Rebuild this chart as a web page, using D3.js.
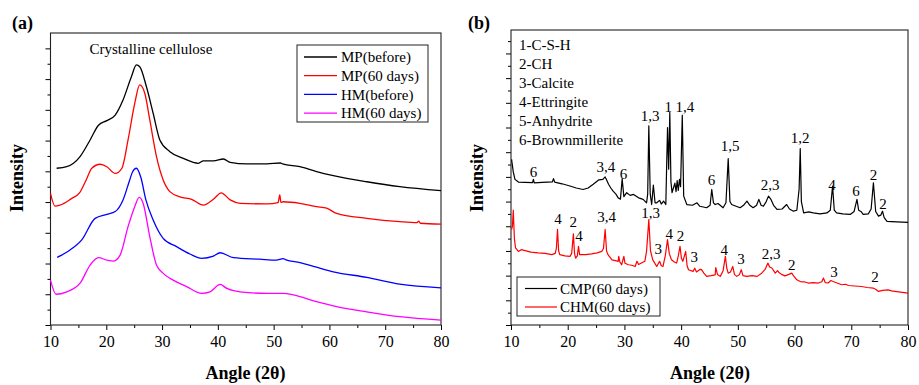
<!DOCTYPE html>
<html>
<head>
<style>
  body { margin: 0; background: #fff; }
  svg text { font-family: "Liberation Serif", "Times New Roman", serif; fill: #000; }
  .bold { font-weight: bold; }
</style>
<script src="https://d3js.org/d3.v7.min.js"></script>
</head>
<body>
<div id="chart"></div>
<script>
// ---- panel (a) data: [angle, intensity]
var mpBefore = [[11.1,5.10],[12.9,5.15],[15.3,5.48],[17.1,6.02],[18.6,6.50],[20.1,6.65],[21.6,6.83],[23.0,7.32],[24.5,8.08],[25.4,8.46],[26.0,8.40],[27.2,7.75],[28.4,6.89],[29.6,6.02],[31.4,5.64],[33.8,5.42],[36.5,5.26],[37.4,5.34],[39.2,5.34],[41.0,5.40],[42.2,5.29],[45.2,5.24],[48.8,5.24],[51.2,5.27],[51.6,5.24],[54.7,5.15],[57.7,4.99],[60.7,4.86],[66.7,4.66],[72.6,4.50],[80,4.37]];
var mp60 = [[10.0,4.28],[10.8,3.87],[11.7,3.90],[13.8,4.12],[15.2,4.30],[16.4,4.72],[17.4,5.10],[18.9,5.23],[20.1,5.15],[21.6,4.93],[22.8,5.10],[23.9,6.02],[25.1,7.21],[26.0,7.81],[26.9,7.54],[27.8,6.67],[29.0,5.48],[30.2,4.72],[31.4,4.34],[33.2,4.17],[35.3,4.09],[37.4,3.90],[39.2,4.09],[40.6,4.30],[42.2,4.07],[44.0,3.96],[48.8,3.94],[50.8,3.98],[51.1,4.23],[51.3,3.99],[51.7,4.01],[54.7,3.96],[57.7,3.85],[59.5,3.80],[61.3,3.63],[66.7,3.47],[72.6,3.36],[75.7,3.33],[76.0,3.38],[76.3,3.31],[80,3.28]];
var hmBefore = [[11.2,2.20],[13.5,2.44],[15.6,2.77],[18.0,3.47],[20.1,3.60],[21.6,3.69],[23.0,4.07],[24.2,4.72],[24.7,4.98],[25.4,5.10],[26.2,4.80],[27.1,4.07],[28.4,3.42],[30.2,2.82],[32.6,2.55],[35.0,2.31],[37.1,2.17],[39.2,2.24],[40.4,2.35],[42.8,2.19],[47.5,2.14],[50.5,2.11],[51.7,2.16],[52.2,2.12],[54.7,2.03],[57.7,1.88],[60.7,1.73],[66.7,1.55],[72.6,1.33],[80,1.21]];
var hm60 = [[10.0,1.46],[11.0,1.00],[12.9,1.08],[15.3,1.36],[17.1,1.95],[18.6,2.19],[20.1,2.11],[21.3,2.08],[22.5,2.28],[23.9,3.20],[25.1,3.85],[25.9,4.15],[26.6,3.96],[27.8,2.87],[29.0,1.95],[30.2,1.68],[32.0,1.46],[34.4,1.25],[37.1,1.03],[38.6,1.08],[40.4,1.32],[41.6,1.19],[44.0,1.08],[48.8,1.03],[51.7,1.03],[53.5,0.98],[57.7,0.76],[61.3,0.60],[66.7,0.43],[72.6,0.27],[80,0.16]];
var namesA = ["MP(before)", "MP(60 days)", "HM(before)", "HM(60 days)"];
var colorsA = ["#000000", "#ff0000", "#0000ff", "#ff00ff"];

// ---- panel (b) data
var cmp60 = [[10.1,6.71],[10.4,6.2],[10.7,5.9],[11.3,5.79],[12.5,5.78],[13.8,5.77],[13.95,5.9],[14.1,5.76],[15.5,5.78],[17.3,5.8],[17.5,5.93],[17.7,5.79],[19,5.72],[20.4,5.63],[21.5,5.55],[22.7,5.49],[23.6,5.55],[24.5,5.7],[25.5,5.88],[26.2,5.9],[26.6,6.0],[26.8,5.9],[27.2,5.7],[27.6,5.55],[28.0,5.42],[28.5,5.3],[28.9,5.15],[29.3,5.1],[29.6,5.92],[29.9,5.2],[30.4,5.36],[31.0,5.25],[31.6,5.29],[32.5,5.15],[33.3,5.09],[33.9,4.95],[34.1,5.3],[34.3,8.07],[34.55,5.3],[34.8,4.88],[35.1,5.67],[35.4,4.95],[35.7,4.95],[36.2,5.05],[36.5,4.9],[36.9,5.02],[37.3,4.88],[37.45,6.5],[37.6,8.0],[37.8,6.31],[38.0,8.61],[38.2,5.8],[38.4,5.36],[38.7,5.6],[38.9,5.75],[39.1,5.4],[39.3,5.85],[39.5,5.45],[39.7,5.9],[39.9,5.6],[40.2,8.5],[40.45,5.22],[41.0,4.88],[42,4.85],[42.8,4.95],[43.3,4.81],[44.5,4.75],[45.1,4.85],[45.4,5.49],[45.7,4.95],[46.0,4.88],[46.5,4.92],[47.4,4.75],[47.9,4.95],[48.3,6.74],[48.6,5.0],[48.9,4.88],[49.8,4.8],[50.4,4.75],[51.0,4.85],[51.6,5.02],[52.1,4.85],[52.7,4.75],[53.3,4.85],[53.7,5.09],[54.1,4.85],[54.5,4.81],[55.0,5.0],[55.4,5.22],[55.8,5.1],[56.3,4.85],[56.9,4.68],[57.8,4.7],[58.6,4.88],[59.1,4.7],[59.8,4.61],[60.4,4.65],[60.8,5.5],[61.0,7.15],[61.2,5.0],[61.6,4.54],[62.5,4.58],[63.3,4.54],[64.5,4.5],[65.7,4.54],[66.3,4.65],[66.7,5.63],[67.0,4.65],[67.4,4.54],[68.5,4.5],[69.8,4.48],[70.5,4.6],[71.0,5.09],[71.3,4.65],[71.7,4.6],[72.1,4.48],[73.0,4.5],[73.5,4.7],[73.9,5.76],[74.3,4.6],[74.8,4.41],[75.2,4.45],[75.5,4.61],[75.8,4.35],[76.3,4.2],[78,4.18],[80,4.16]];
var chm60 = [[10.1,3.87],[10.25,4.0],[10.4,4.65],[10.6,3.5],[10.8,3.12],[11.3,2.98],[11.8,3.05],[12.5,3.01],[13.5,2.95],[14.8,2.92],[16,2.9],[17.2,2.85],[17.8,2.9],[18.0,3.1],[18.2,3.87],[18.4,3.0],[18.6,2.85],[19.5,2.8],[20.4,2.78],[20.7,2.9],[21.0,3.69],[21.2,2.9],[21.4,2.71],[21.7,2.8],[21.9,3.19],[22.1,2.85],[22.3,2.85],[23.2,2.85],[24.2,2.88],[25.2,2.92],[26.0,2.98],[26.3,3.1],[26.6,3.87],[26.85,3.0],[27.1,2.85],[27.8,2.64],[28.6,2.6],[28.9,2.58],[29.0,2.78],[29.2,2.55],[29.5,2.44],[29.9,2.78],[30.1,2.5],[30.7,2.44],[31.3,2.42],[31.9,2.37],[32.2,2.58],[32.5,2.45],[33.0,2.51],[33.6,2.58],[33.9,2.98],[34.3,4.27],[34.6,3.0],[35.0,2.64],[35.7,2.37],[36.2,2.58],[36.5,2.4],[36.8,2.37],[37.2,2.8],[37.6,3.46],[37.9,2.9],[38.3,2.64],[38.8,2.55],[39.2,2.51],[39.5,2.8],[39.8,3.19],[40.05,2.7],[40.3,2.58],[40.8,2.98],[41.05,2.4],[41.3,2.24],[42.1,2.17],[42.4,2.3],[42.7,2.15],[43.3,2.25],[43.6,2.24],[44.0,2.1],[44.5,1.97],[45.3,2.0],[46.0,2.03],[46.1,2.33],[46.4,2.05],[46.9,1.97],[47.4,2.2],[47.8,2.78],[48.05,2.3],[48.3,2.1],[48.7,2.15],[49.1,2.37],[49.4,2.05],[49.8,1.97],[50.3,2.05],[50.6,2.24],[50.9,2.0],[51.6,1.97],[52.5,2.0],[53.4,1.97],[54.2,2.1],[54.8,2.25],[55.3,2.51],[55.6,2.35],[56.0,2.31],[56.6,2.1],[57.0,2.2],[57.2,2.14],[57.7,2.05],[58.3,1.99],[59.0,2.05],[59.5,2.1],[59.8,2.0],[60.4,1.83],[61.0,1.76],[61.7,1.75],[62.4,1.7],[63.3,1.72],[64.2,1.7],[64.8,1.75],[65.1,1.9],[65.4,1.72],[65.9,1.7],[66.4,1.8],[66.8,1.76],[67.5,1.7],[68.3,1.63],[69.0,1.65],[69.5,1.6],[70.6,1.58],[71.8,1.56],[72.8,1.52],[73.9,1.49],[74.3,1.45],[74.8,1.36],[75.5,1.4],[76.5,1.42],[77.1,1.38],[77.7,1.36],[79,1.32],[80,1.29]];
var namesB = ["CMP(60 days)", "CHM(60 days)"];
var colorsB = ["#000000", "#ff0000"];
var phases = ["1-C-S-H", "2-CH", "3-Calcite", "4-Ettringite", "5-Anhydrite", "6-Brownmillerite"];
// peak labels: [angle, intensity, text]
var peaksCMP = [[13.97,6.22,"6"],[26.75,6.41,"3,4"],[29.84,6.14,"6"],[34.51,8.46,"1,3"],[37.74,8.83,"1"],[40.68,8.83,"1,4"],[45.36,5.90,"6"],[48.62,7.28,"1,5"],[55.67,5.68,"2,3"],[60.96,7.57,"1,2"],[66.60,5.70,"4"],[70.84,5.43,"6"],[73.92,6.10,"2"],[75.60,4.92,"2"]];
var peaksCHM = [[18.29,4.31,"4"],[20.99,4.19,"2"],[21.99,3.62,"4"],[26.84,4.39,"3,4"],[34.60,4.54,"1,3"],[35.97,3.07,"3"],[37.91,3.70,"4"],[39.89,3.62,"2"],[42.32,2.77,"3"],[47.61,3.05,"4"],[50.56,2.69,"3"],[55.85,2.89,"2,3"],[59.50,2.44,"2"],[66.96,2.16,"3"],[74.19,1.95,"2"]];
var xTicks = [10, 20, 30, 40, 50, 60, 70, 80];

var svg = d3.select("#chart").append("svg")
    .attr("width", 919).attr("height", 385);

function frame(x, y, yMax) {
    var g = svg.append("g");
    // minor ticks
    g.append("g").attr("transform", "translate(0," + y.range()[0] + ")")
        .call(d3.axisBottom(x).tickValues(d3.range(15, 80, 10)).tickSize(3).tickFormat(""))
        .call(function(a) { a.select(".domain").remove(); });
    g.append("g").attr("transform", "translate(" + x.range()[0] + ",0)")
        .call(d3.axisLeft(y).tickValues(d3.range(0.5, yMax, 1)).tickSize(3).tickFormat(""))
        .call(function(a) { a.select(".domain").remove(); });
    // major ticks
    var xa = g.append("g").attr("transform", "translate(0," + y.range()[0] + ")")
        .call(d3.axisBottom(x).tickValues(xTicks).tickSize(5).tickPadding(6).tickFormat(d3.format("d")));
    xa.select(".domain").remove();
    xa.selectAll("text").style("font-family", "'Liberation Serif', serif").style("font-size", "16px");
    g.append("g").attr("transform", "translate(" + x.range()[0] + ",0)")
        .call(d3.axisLeft(y).tickValues(d3.range(0, yMax, 1)).tickSize(5).tickFormat(""))
        .call(function(a) { a.select(".domain").remove(); });
    g.append("rect")
        .attr("x", x.range()[0]).attr("y", y.range()[1])
        .attr("width", x.range()[1] - x.range()[0])
        .attr("height", y.range()[0] - y.range()[1])
        .attr("fill", "none").attr("stroke", "#222").attr("stroke-width", 1.1);
}

// ---- panel (a)
var xa = d3.scaleLinear().domain([10, 80]).range([50.5, 441]);
var ya = d3.scaleLinear().domain([0, 9.5]).range([325, 33]);
frame(xa, ya, 9.5);

var lineA = d3.line().x(function(d) { return xa(d[0]); }).y(function(d) { return ya(d[1]); })
    .curve(d3.curveMonotoneX);
[mpBefore, mp60, hmBefore, hm60].forEach(function(s, i) {
    svg.append("path").datum(s).attr("d", lineA)
        .attr("fill", "none").attr("stroke", colorsA[i]).attr("stroke-width", 1.3);
});

svg.append("text").attr("x", xa(28.0)).attr("y", ya(8.98)).attr("dy", "0.35em")
    .attr("text-anchor", "middle").style("font-size", "15px").text("Crystalline cellulose");

svg.append("rect").attr("x", 297).attr("y", 45).attr("width", 131).attr("height", 77)
    .attr("fill", "#fff").attr("stroke", "#222").attr("stroke-width", 1);
namesA.forEach(function(n, i) {
    var yy = 57 + i * 18.7;
    svg.append("line").attr("x1", 304).attr("x2", 337).attr("y1", yy).attr("y2", yy)
        .attr("stroke", colorsA[i]).attr("stroke-width", 1.3);
    svg.append("text").attr("x", 341).attr("y", yy).attr("dy", "0.35em")
        .style("font-size", "15px").text(n);
});

svg.append("text").attr("class", "bold").attr("x", 12).attr("y", 29).style("font-size", "18px").text("(a)");
svg.append("text").attr("class", "bold").attr("x", 245.5).attr("y", 379)
    .attr("text-anchor", "middle").style("font-size", "18px").text("Angle (2θ)");
svg.append("text").attr("class", "bold")
    .attr("transform", "translate(23,178) rotate(-90)")
    .attr("text-anchor", "middle").style("font-size", "18px").text("Intensity");

// ---- panel (b)
var xb = d3.scaleLinear().domain([10, 80]).range([511, 908]);
var yb = d3.scaleLinear().domain([0, 11.95]).range([325, 30]);
frame(xb, yb, 11.95);

var lineB = d3.line().x(function(d) { return xb(d[0]); }).y(function(d) { return yb(d[1]); });
[cmp60, chm60].forEach(function(s, i) {
    svg.append("path").datum(s).attr("d", lineB)
        .attr("fill", "none").attr("stroke", colorsB[i]).attr("stroke-width", 1.2)
        .attr("stroke-linejoin", "round");
});

[peaksCMP, peaksCHM].forEach(function(p) {
    svg.selectAll(null).data(p).enter().append("text")
        .attr("x", function(d) { return xb(d[0]); })
        .attr("y", function(d) { return yb(d[1]); })
        .attr("dy", "0.35em").attr("text-anchor", "middle")
        .style("font-size", "15px").text(function(d) { return d[2]; });
});

phases.forEach(function(t, i) {
    svg.append("text").attr("x", 519).attr("y", 45 + i * 19).attr("dy", "0.35em")
        .style("font-size", "15px").text(t);
});

svg.append("rect").attr("x", 517).attr("y", 277).attr("width", 143).attr("height", 39)
    .attr("fill", "#fff").attr("stroke", "#222").attr("stroke-width", 1);
namesB.forEach(function(n, i) {
    var yy = 288.5 + i * 18.5;
    svg.append("line").attr("x1", 525).attr("x2", 557).attr("y1", yy).attr("y2", yy)
        .attr("stroke", colorsB[i]).attr("stroke-width", 1.2);
    svg.append("text").attr("x", 560).attr("y", yy).attr("dy", "0.35em")
        .style("font-size", "15px").text(n);
});

svg.append("text").attr("class", "bold").attr("x", 468).attr("y", 29).style("font-size", "18px").text("(b)");
svg.append("text").attr("class", "bold").attr("x", 710).attr("y", 379)
    .attr("text-anchor", "middle").style("font-size", "18px").text("Angle (2θ)");
svg.append("text").attr("class", "bold")
    .attr("transform", "translate(483,178) rotate(-90)")
    .attr("text-anchor", "middle").style("font-size", "18px").text("Intensity");
</script>
</body>
</html>
